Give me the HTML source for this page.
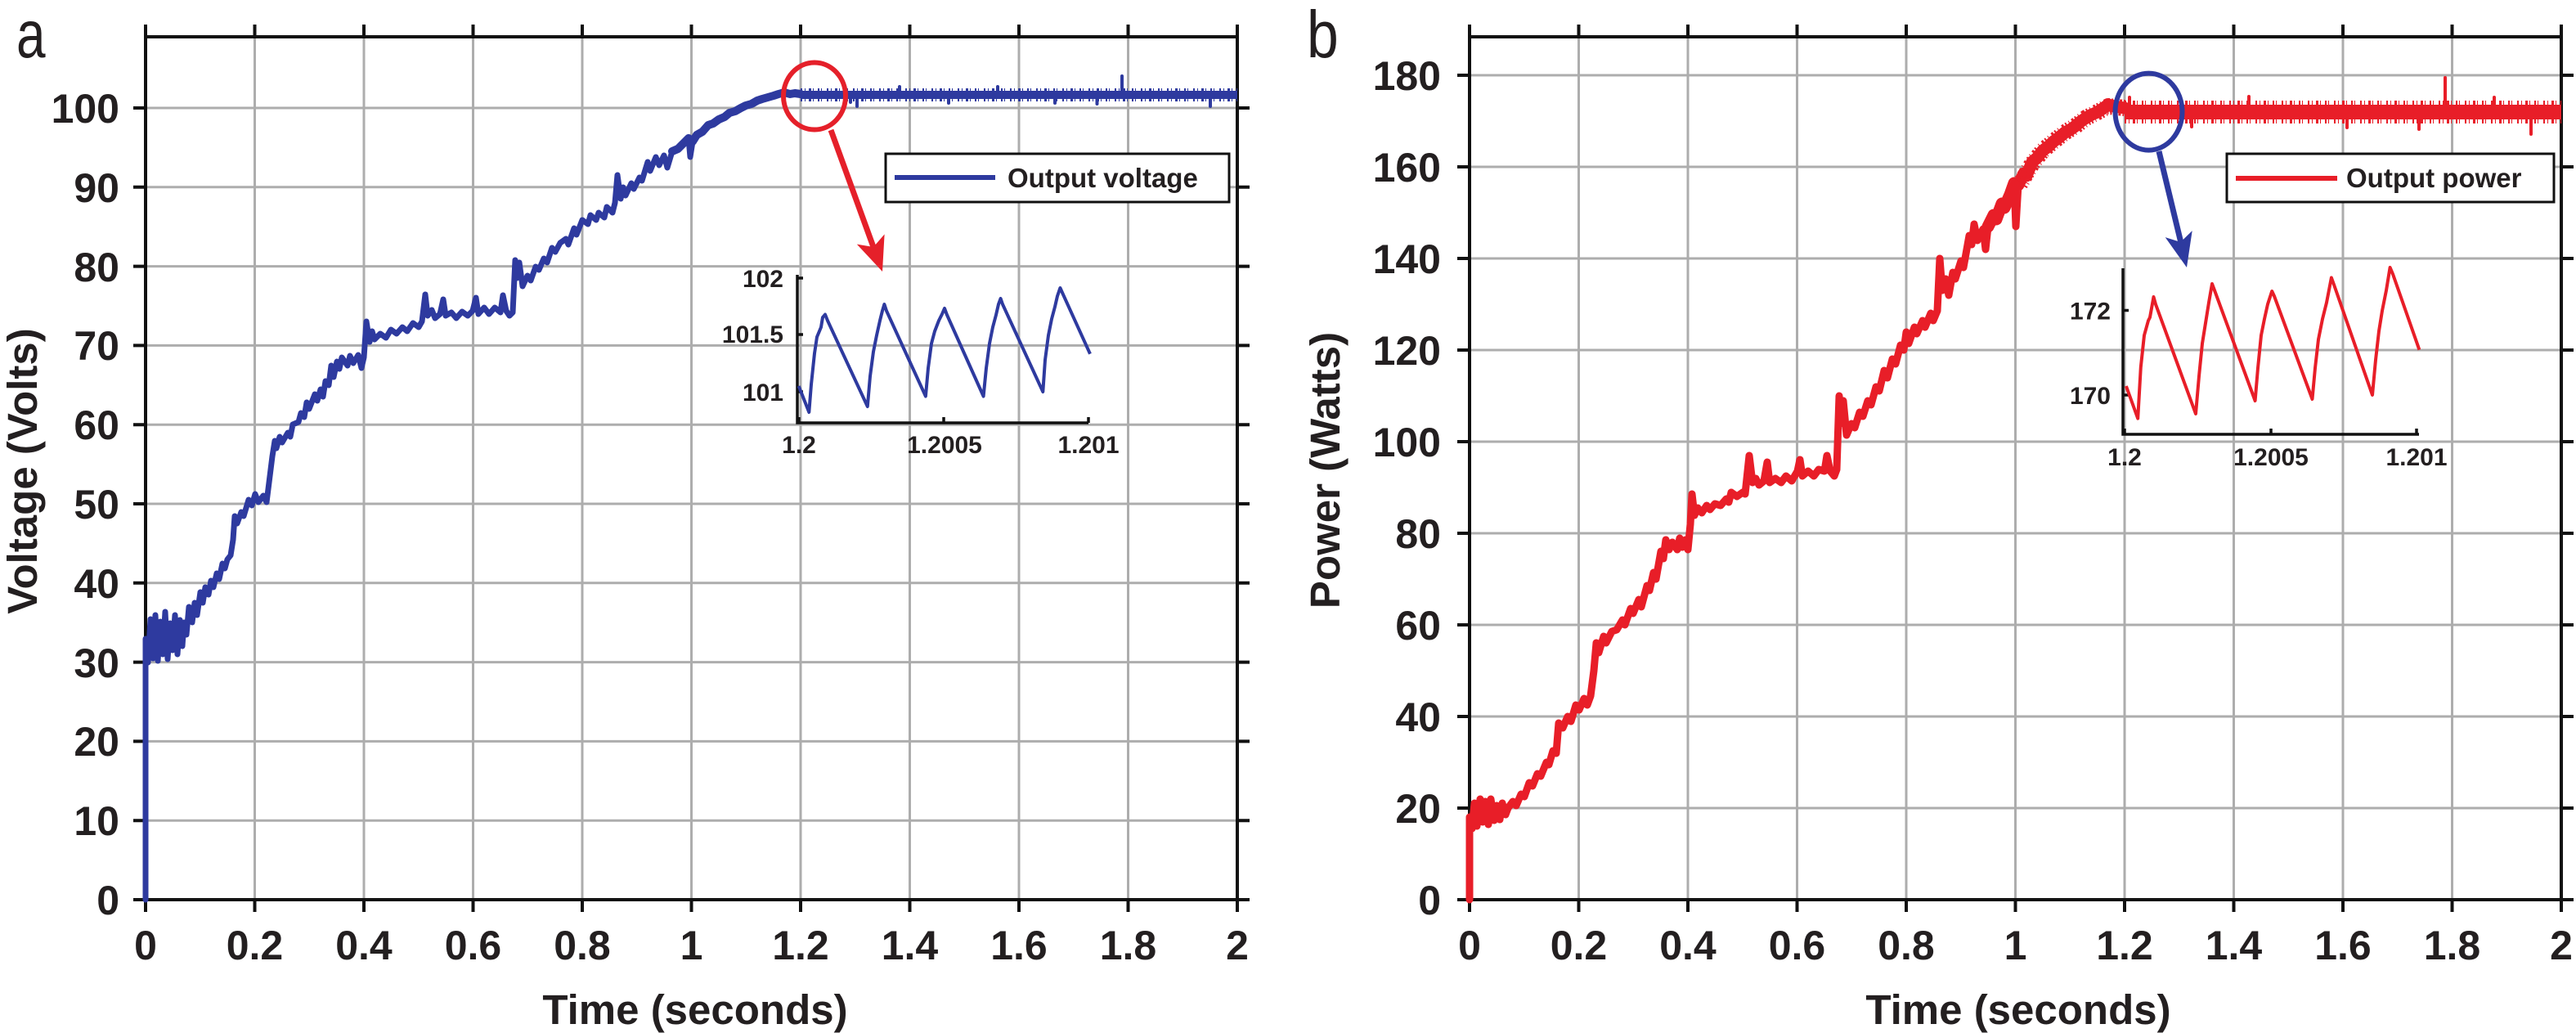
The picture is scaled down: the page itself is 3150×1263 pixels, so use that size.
<!DOCTYPE html>
<html>
<head>
<meta charset="utf-8">
<style>
html,body{margin:0;padding:0;background:#fff;}
svg{display:block;}
text{font-family:"Liberation Sans",Arial,sans-serif;fill:#231f20;}
.tk{font-size:50px;font-weight:bold;}
.ttl{font-size:51px;font-weight:bold;}
.ins{font-size:30px;font-weight:bold;}
.leg{font-size:33px;font-weight:bold;}
.pl{font-size:82px;font-weight:normal;}
</style>
</head>
<body>
<svg width="3150" height="1263" viewBox="0 0 3150 1263" xmlns="http://www.w3.org/2000/svg">
<rect x="0" y="0" width="3150" height="1263" fill="#fff"/>

<!-- ================= PANEL A ================= -->
<g stroke="#adadad" stroke-width="3" fill="none">
<path d="M311.5,45V1100M445,45V1100M578.5,45V1100M712,45V1100M845.5,45V1100M979,45V1100M1112.5,45V1100M1246,45V1100M1379.5,45V1100"/>
<path d="M178,1003.2H1513M178,906.4H1513M178,809.6H1513M178,712.8H1513M178,616H1513M178,519.2H1513M178,422.4H1513M178,325.6H1513M178,228.8H1513M178,132H1513"/>
</g>

<!-- axes box a -->
<rect x="178" y="45" width="1335" height="1055" fill="none" stroke="#111" stroke-width="4"/>
<g stroke="#111" stroke-width="4">
<path d="M178,1100v15M311.5,1100v15M445,1100v15M578.5,1100v15M712,1100v15M845.5,1100v15M979,1100v15M1112.5,1100v15M1246,1100v15M1379.5,1100v15M1513,1100v15"/>
<path d="M178,45v-15M311.5,45v-15M445,45v-15M578.5,45v-15M712,45v-15M845.5,45v-15M979,45v-15M1112.5,45v-15M1246,45v-15M1379.5,45v-15M1513,45v-15"/>
<path d="M178,1100h-15M178,1003.2h-15M178,906.4h-15M178,809.6h-15M178,712.8h-15M178,616h-15M178,519.2h-15M178,422.4h-15M178,325.6h-15M178,228.8h-15M178,132h-15"/>
<path d="M1513,1100h15M1513,1003.2h15M1513,906.4h15M1513,809.6h15M1513,712.8h15M1513,616h15M1513,519.2h15M1513,422.4h15M1513,325.6h15M1513,228.8h15M1513,132h15"/>
</g>

<!-- data a -->
<g fill="none" stroke="#2e3a9f" stroke-linejoin="round" stroke-linecap="round">
<polyline stroke-width="7" points="178,1100 178,781 181,810 184,757 187,805 190,752 193,808 196,760 199,800 202,748 205,806 208,762 211,795 214,752 217,800 220,758 223,790 225,761 228,776 231,742 235,761 238,737 241,752 245,724 248,737 251,718 255,727 258,710 261,718 265,701 268,708 272,689 275,695 278,684 282,679 285,660 287,631 290,640 295,626 298,631 304,611 308,618 312,604 316,614 322,606 326,614 330,582 333,558 336,539 338,548 342,534 345,541 352,529 355,534 358,519 365,516 368,505 372,510 375,492 378,500 385,482 388,490 392,476 395,485 398,466 402,471 405,447 408,461 412,442 415,451 418,437 425,447 428,435 432,444 438,434 442,450 445,437 448,393 452,418 455,405 458,415 465,408 472,413 478,403 485,408 492,400 498,405 505,395 512,400 516,393 520,360 523,386 528,379 532,389 538,384 542,366 545,386 552,382 558,389 565,381 572,386 578,380 582,364 585,384 592,376 598,384 605,376 612,382 615,361 619,380 623,386 627,382 630,318 632,340 635,321 639,350 645,337 649,343 655,326 659,330 665,316 669,321 675,303 679,308 685,297 692,292 695,299 702,279 705,287 712,269 719,274 722,263 729,269 732,260 739,266 742,253 749,260 752,248 755,214 759,243 762,229 765,239 772,224 775,231 782,217 785,221 792,198 795,209 802,192 806,202 812,190 816,205 822,185 829,182 836,175 842,169 844,192 847,173 852,165 859,161 866,153 872,151 879,146 886,143 892,138 899,136 906,132 912,129 919,127 926,123 932,121 939,119 946,117 952,115 959,113 966,115 972,114 979,115"/>
<polyline stroke-width="10" points="822,185 829,182 836,175 842,169 847,173 852,165 859,161 866,153 872,151 879,146 886,143 892,138 899,136 906,132 912,129 919,127 926,123 932,121 939,119 946,117 952,115 959,113 966,115 972,114 979,115"/>
<!-- plateau a: solid core + fuzzy band -->
<line x1="979" y1="116" x2="1513" y2="116" stroke-width="10" stroke-linecap="butt"/>
<line x1="979" y1="116" x2="1513" y2="116" stroke-width="16" stroke-linecap="butt" stroke-dasharray="2 3 1 4 3 2 1 5 2 2 1 6"/>
<path stroke-width="4" d="M1048,116V130M1341.5,116V127M1372,116V93M1480,116V130M1100,116V106M1040,116V125M1220,116V106M1290,116V126M1160,116V126"/>
</g>

<!-- legend a -->
<rect x="1083" y="188" width="420" height="59" fill="#fff" stroke="#111" stroke-width="3"/>
<line x1="1094" y1="217" x2="1217" y2="217" stroke="#2e3a9f" stroke-width="6"/>
<text class="leg" x="1232" y="229">Output voltage</text>

<!-- red circle & arrow -->
<ellipse cx="996" cy="117.5" rx="38" ry="41" fill="none" stroke="#e5202a" stroke-width="6"/>
<line x1="1016" y1="159" x2="1068" y2="302" stroke="#e5202a" stroke-width="7"/>
<polygon points="1079,332 1081.6,286.4 1068.1,302 1047.8,298.6" fill="#e5202a"/>

<!-- inset a -->
<g stroke="#111" stroke-width="3.5" fill="none">
<path d="M975,336V517H1331"/>
<path d="M975,340h7M975,409h7M975,479h7M977,517v-7M1154,517v-7M1331,517v-7"/>
</g>
<polyline fill="none" stroke="#2e3a9f" stroke-width="4" stroke-linejoin="round" points="976.7,472 989.3,504 992,470 996,432 999,412 1004,400 1006,388 1009,384.5 1012,392 1060.8,497 1064,460 1068,430 1072,410 1076,392 1079,380 1081.4,372 1084,380 1131.9,484.5 1135,450 1139,420 1143,405 1148,392 1152,384 1155,377 1158,385 1202.6,484.5 1206,450 1210,420 1214,400 1218,385 1221,372 1223.6,365 1226,372 1275.3,479 1278,440 1282,410 1286,390 1290,375 1293,362 1296.4,352 1300,360 1333,432.7"/>
<text class="ins" x="958" y="351" text-anchor="end">102</text>
<text class="ins" x="958" y="419" text-anchor="end">101.5</text>
<text class="ins" x="958" y="490" text-anchor="end">101</text>
<text class="ins" x="977" y="554" text-anchor="middle">1.2</text>
<text class="ins" x="1155" y="554" text-anchor="middle">1.2005</text>
<text class="ins" x="1331" y="554" text-anchor="middle">1.201</text>

<!-- tick labels a -->
<g class="tk" text-anchor="end">
<text x="146" y="1118">0</text>
<text x="146" y="1021">10</text>
<text x="146" y="924">20</text>
<text x="146" y="828">30</text>
<text x="146" y="731">40</text>
<text x="146" y="634">50</text>
<text x="146" y="537">60</text>
<text x="146" y="440">70</text>
<text x="146" y="344">80</text>
<text x="146" y="247">90</text>
<text x="146" y="150">100</text>
</g>
<g class="tk" text-anchor="middle">
<text x="178" y="1173">0</text>
<text x="311.5" y="1173">0.2</text>
<text x="445" y="1173">0.4</text>
<text x="578.5" y="1173">0.6</text>
<text x="712" y="1173">0.8</text>
<text x="845.5" y="1173">1</text>
<text x="979" y="1173">1.2</text>
<text x="1112.5" y="1173">1.4</text>
<text x="1246" y="1173">1.6</text>
<text x="1379.5" y="1173">1.8</text>
<text x="1513" y="1173">2</text>
</g>
<text class="ttl" x="850" y="1252" text-anchor="middle">Time (seconds)</text>
<text class="ttl" transform="translate(45,576) rotate(-90)" text-anchor="middle">Voltage (Volts)</text>
<text class="pl" transform="translate(20,70) scale(0.78,1)">a</text>

<!-- ================= PANEL B ================= -->
<g stroke="#adadad" stroke-width="3" fill="none">
<path d="M1930.5,45V1100M2064,45V1100M2197.5,45V1100M2331,45V1100M2464.5,45V1100M2598,45V1100M2731.5,45V1100M2865,45V1100M2998.5,45V1100"/>
<path d="M1797,988H3132M1797,876H3132M1797,764H3132M1797,652H3132M1797,540H3132M1797,428H3132M1797,316H3132M1797,204H3132M1797,92H3132"/>
</g>

<rect x="1797" y="45" width="1335" height="1055" fill="none" stroke="#111" stroke-width="4"/>
<g stroke="#111" stroke-width="4">
<path d="M1797,1100v15M1930.5,1100v15M2064,1100v15M2197.5,1100v15M2331,1100v15M2464.5,1100v15M2598,1100v15M2731.5,1100v15M2865,1100v15M2998.5,1100v15M3132,1100v15"/>
<path d="M1797,45v-15M1930.5,45v-15M2064,45v-15M2197.5,45v-15M2331,45v-15M2464.5,45v-15M2598,45v-15M2731.5,45v-15M2865,45v-15M2998.5,45v-15M3132,45v-15"/>
<path d="M1797,1100h-15M1797,988h-15M1797,876h-15M1797,764h-15M1797,652h-15M1797,540h-15M1797,428h-15M1797,316h-15M1797,204h-15M1797,92h-15"/>
<path d="M3132,1100h15M3132,988h15M3132,876h15M3132,764h15M3132,652h15M3132,540h15M3132,428h15M3132,316h15M3132,204h15M3132,92h15"/>
</g>

<!-- data b -->
<g fill="none" stroke="#e81e28" stroke-linejoin="round" stroke-linecap="round">
<polyline stroke-width="9" points="1797,1100 1797,999 1800,1013 1803,982 1806,1010 1810,977 1813,1005 1816,980 1820,1008 1823,977 1827,1003 1830,985 1834,1002 1837,982 1841,996 1844,988 1850,980 1854,985 1860,971 1864,974 1870,957 1874,961 1880,946 1884,949 1891,932 1894,935 1899,918 1903,921 1906,884 1911,890 1917,876 1921,882 1927,862 1931,868 1937,854 1941,862 1945,851 1949,820 1952,786 1955,798 1961,778 1964,786 1971,772 1977,770 1984,758 1987,764 1994,744 1997,750 2004,733 2007,742 2014,716 2017,722 2022,700 2025,708 2031,674 2034,683 2037,660 2041,672 2045,663 2051,672 2054,658 2057,669 2061,660 2064,672 2067,641 2069,604 2072,630 2076,621 2081,627 2087,618 2091,623 2097,616 2104,618 2111,610 2114,614 2117,602 2124,607 2131,602 2134,604 2139,557 2143,590 2147,585 2151,593 2157,588 2161,565 2164,590 2171,585 2178,590 2184,582 2191,588 2198,576 2201,562 2204,582 2211,576 2218,582 2224,574 2231,576 2234,557 2238,576 2243,582 2246,574 2249,484 2251,518 2254,490 2258,532 2264,518 2268,523 2274,504 2278,509 2284,490 2288,495 2294,473 2298,478 2304,453 2308,462 2314,439 2318,445 2324,422 2328,428 2331,406 2334,420 2341,400 2344,408 2351,392 2354,400 2361,383 2364,392 2369,380 2372,316 2375,355 2379,341 2383,361 2388,333 2391,341 2398,319 2401,327 2408,288 2411,299 2414,274 2418,294 2425,280 2428,305 2431,277 2438,263 2441,268 2448,249 2451,254 2458,238 2463,224 2465,277 2468,226 2475,212 2478,215 2485,198 2491,193 2498,184 2505,179 2511,173 2518,168 2525,162 2531,159 2538,154 2545,148 2551,144 2558,140 2565,137 2571,133 2578,128 2585,130 2591,131 2598,132"/>
<polyline stroke-width="15" points="2431,277 2438,263 2441,268 2448,249 2451,254 2458,238 2463,224 2468,226 2475,212 2478,215 2485,198 2491,193 2498,184 2505,179 2511,173 2518,168 2525,162 2531,159 2538,154 2545,148 2551,144 2558,140 2565,137 2571,133 2578,128 2585,130 2591,131 2598,132"/>
<polyline stroke-width="20" stroke-dasharray="2 3 1 4 3 2" stroke-linecap="butt" points="2470,225 2485,200 2498,184 2511,173 2525,162 2538,154 2551,144 2565,137 2578,130 2598,132"/>
<!-- plateau b -->
<line x1="2598" y1="137" x2="3132" y2="137" stroke-width="18" stroke-linecap="butt"/>
<line x1="2598" y1="137" x2="3132" y2="137" stroke-width="28" stroke-linecap="butt" stroke-dasharray="2 3 1 4 3 2 1 5 2 2 1 6"/>
<path stroke-width="4" d="M2958,140V158M2990,137V95M3095,140V164M2604,137V119M2870,140V156M2750,137V118M2680,137V155M3050,137V119"/>
</g>

<!-- legend b -->
<rect x="2723" y="188" width="400" height="59" fill="#fff" stroke="#111" stroke-width="3"/>
<line x1="2734" y1="218" x2="2858" y2="218" stroke="#e81e28" stroke-width="6"/>
<text class="leg" x="2869" y="229">Output power</text>

<!-- blue circle & arrow -->
<ellipse cx="2627.5" cy="136.6" rx="41" ry="47" fill="none" stroke="#2e3a9f" stroke-width="6"/>
<line x1="2640" y1="185" x2="2667" y2="297" stroke="#2e3a9f" stroke-width="7"/>
<polygon points="2674,327 2680.7,282.1 2666.5,296 2647.7,290.1" fill="#2e3a9f"/>

<!-- inset b -->
<g stroke="#111" stroke-width="3.5" fill="none">
<path d="M2596,328V531H2958"/>
<path d="M2596,379.5h7M2596,483h7M2598,531v-7M2777,531v-7M2955,531v-7"/>
</g>
<polyline fill="none" stroke="#e81e28" stroke-width="4" stroke-linejoin="round" points="2599.9,472 2614.2,511.6 2617.8,449 2622,410 2627,392 2629,388 2633.5,363 2636,372 2685,506 2689,460 2693,420 2697,395 2701,370 2705,347 2708,355 2757.6,490 2761,450 2765,410 2769,390 2773,372 2778.2,356 2781,362 2827.5,488 2831,450 2835,415 2840,390 2845,370 2850.9,339.5 2854,348 2901,483 2905,440 2909,405 2913,380 2918,355 2922.6,327 2926,335 2958.4,427.7"/>
<text class="ins" x="2581" y="390.5" text-anchor="end">172</text>
<text class="ins" x="2581" y="494" text-anchor="end">170</text>
<text class="ins" x="2598" y="569" text-anchor="middle">1.2</text>
<text class="ins" x="2777" y="569" text-anchor="middle">1.2005</text>
<text class="ins" x="2955" y="569" text-anchor="middle">1.201</text>

<!-- tick labels b -->
<g class="tk" text-anchor="end">
<text x="1762" y="1118">0</text>
<text x="1762" y="1006">20</text>
<text x="1762" y="894">40</text>
<text x="1762" y="782">60</text>
<text x="1762" y="670">80</text>
<text x="1762" y="558">100</text>
<text x="1762" y="446">120</text>
<text x="1762" y="334">140</text>
<text x="1762" y="222">160</text>
<text x="1762" y="110">180</text>
</g>
<g class="tk" text-anchor="middle">
<text x="1797" y="1173">0</text>
<text x="1930.5" y="1173">0.2</text>
<text x="2064" y="1173">0.4</text>
<text x="2197.5" y="1173">0.6</text>
<text x="2331" y="1173">0.8</text>
<text x="2464.5" y="1173">1</text>
<text x="2598" y="1173">1.2</text>
<text x="2731.5" y="1173">1.4</text>
<text x="2865" y="1173">1.6</text>
<text x="2998.5" y="1173">1.8</text>
<text x="3132" y="1173">2</text>
</g>
<text class="ttl" x="2468" y="1252" text-anchor="middle">Time (seconds)</text>
<text class="ttl" transform="translate(1638,575) rotate(-90)" text-anchor="middle">Power (Watts)</text>
<text class="pl" transform="translate(1598,70) scale(0.85,1)">b</text>
</svg>
</body>
</html>
